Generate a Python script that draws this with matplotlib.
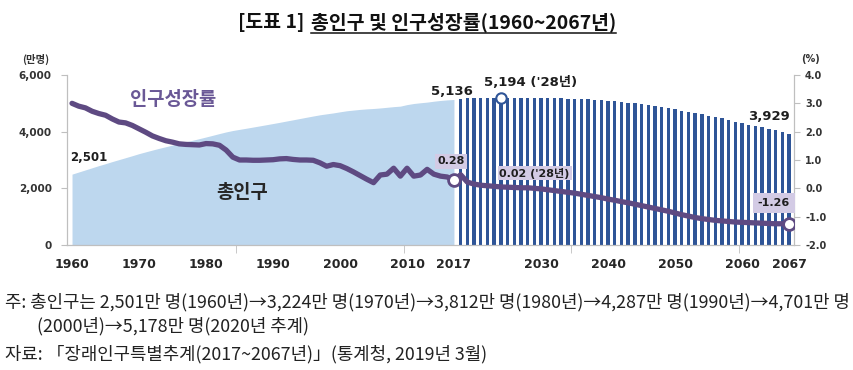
import matplotlib
matplotlib.use('Agg')
import matplotlib.pyplot as plt
from matplotlib.lines import Line2D

plt.rcParams['font.family'] = ['DejaVu Sans', 'Noto Sans CJK KR']

# ---------------- data ----------------
years_hist = list(range(1960, 2018))
pop_hist = [2501, 2576, 2651, 2726, 2801, 2870, 2944, 3013, 3082, 3152,
            3224, 3288, 3351, 3412, 3469, 3528, 3585, 3642, 3697, 3754,
            3812, 3872, 3933, 3991, 4041, 4081, 4121, 4162, 4203, 4245,
            4287, 4330, 4375, 4419, 4464, 4509, 4553, 4595, 4629, 4662,
            4701, 4737, 4762, 4786, 4804, 4818, 4837, 4860, 4883, 4901,
            4955, 4994, 5020, 5043, 5075, 5102, 5122, 5136]

years_proj = list(range(2018, 2068))
pop_proj = [5161, 5171, 5178, 5183, 5186, 5189, 5191, 5192, 5193, 5194,
            5194, 5194, 5193, 5189, 5184, 5178, 5170, 5162, 5152, 5140,
            5127, 5110, 5086, 5068, 5048, 5026, 5002, 4976, 4947, 4910,
            4875, 4835, 4790, 4745, 4706, 4670, 4624, 4570, 4529, 4471,
            4412, 4353, 4294, 4240, 4195, 4150, 4100, 4045, 3985, 3929]

years_all = list(range(1960, 2068))
growth = [3.00, 2.90, 2.84, 2.72, 2.64, 2.58, 2.45, 2.34, 2.31, 2.22,
          2.10, 1.98, 1.85, 1.76, 1.68, 1.63, 1.57, 1.55, 1.54, 1.53,
          1.58, 1.57, 1.52, 1.35, 1.10, 1.00, 1.00, 0.99, 0.99, 1.00,
          1.01, 1.04, 1.05, 1.02, 1.00, 1.00, 0.99, 0.90, 0.78, 0.84,
          0.80, 0.70, 0.58, 0.45, 0.32, 0.20, 0.47, 0.50, 0.71, 0.43,
          0.71, 0.43, 0.47, 0.67, 0.50, 0.43, 0.40, 0.28,
          0.48, 0.22, 0.15, 0.11, 0.09, 0.07, 0.05, 0.04, 0.03, 0.02,
          0.02, 0.00, -0.02, -0.05, -0.08, -0.11, -0.14, -0.17, -0.21, -0.25,
          -0.29, -0.33, -0.38, -0.42, -0.47, -0.51, -0.56, -0.61, -0.66, -0.71,
          -0.76, -0.81, -0.87, -0.93, -0.98, -1.03, -1.07, -1.10, -1.13, -1.15,
          -1.17, -1.19, -1.20, -1.21, -1.22, -1.23, -1.24, -1.25, -1.25, -1.26]

xtick_years = [1960, 1970, 1980, 1990, 2000, 2010, 2017, 2030, 2040, 2050, 2060, 2067]
left_ticks = [0, 2000, 4000, 6000]
right_ticks = [4.0, 3.0, 2.0, 1.0, 0.0, -1.0, -2.0]

growth_marker_years = [2017, 2067]
peak_marker_year = 2024
pop_labels = [(1960, 2501, '2,501'), (2017, 5136, '5,136'),
              (2028, 5194, "5,194 ('28년)"), (2067, 3929, '3,929')]
growth_labels = [(2017, 0.28, '0.28'), (2028, 0.02, "0.02 ('28년)"), (2067, -1.26, '-1.26')]

title_a = '[도표 1]'
title_b = '총인구 및 인구성장률(1960~2067년)'
note1 = '주: 총인구는 2,501만 명(1960년)→3,224만 명(1970년)→3,812만 명(1980년)→4,287만 명(1990년)→4,701만 명'
note2 = '(2000년)→5,178만 명(2020년 추계)'
note3 = '자료: 「장래인구특별추계(2017~2067년)」(통계청, 2019년 3월)'

# ---------------- style ----------------
AREA = '#BDD7EE'
BAR = '#2F5597'
LINE = '#5E4A82'
BOX = '#D3CBE5'
GRAY = '#BFBFBF'
TXT = '#1E1E1E'
CJK = ['Noto Sans CJK KR', 'DejaVu Sans']
NUM = ['DejaVu Sans', 'Noto Sans CJK KR']

W, H = 854, 370
fig = plt.figure(figsize=(W / 100, H / 100), dpi=100)
fig.patch.set_facecolor('white')


def fx(px):
    return px / W


def fy(py):
    return 1 - py / H


ax = fig.add_axes([fx(67), fy(245), (794 - 67) / W, 170 / H])
ax2 = ax.twinx()

ax.fill_between(years_hist, pop_hist, 0, color=AREA, lw=0, zorder=1)
ax.bar(years_proj, pop_proj, width=0.5, color=BAR, lw=0, zorder=2)
ax.set_ylim(0, 6000)
ax.set_xlim(1959.25, 2067.75)
ax2.set_ylim(-2, 4)

ax2.plot(years_all, growth, color=LINE, lw=3.8, solid_joinstyle='round',
         solid_capstyle='round', zorder=3)
for yr in growth_marker_years:
    ax2.plot([yr], [growth[years_all.index(yr)]], 'o', mfc='white', mec=LINE,
             ms=8.5, mew=2.0, zorder=4)
ax.plot([peak_marker_year], [pop_proj[years_proj.index(peak_marker_year)]], 'o',
        mfc='white', mec=BAR, ms=7.5, mew=1.5, zorder=5)

# spines / ticks
for a in (ax, ax2):
    a.spines['top'].set_visible(False)
    for s in ('left', 'right', 'bottom'):
        a.spines[s].set_color(GRAY)
        a.spines[s].set_linewidth(0.8)

ax.set_yticks(left_ticks)
ax.set_yticklabels([f'{v:,}' for v in left_ticks], fontsize=7.5, fontweight='bold',
                   color='#333333', family=NUM)
ax.tick_params(axis='y', direction='out', length=4, color=GRAY, pad=7)
ax2.set_yticks(right_ticks)
ax2.set_yticklabels([f'{v:.1f}' for v in right_ticks], fontsize=7, fontweight='bold',
                    color='#333333', family=NUM)
ax2.tick_params(axis='y', direction='out', length=4, color=GRAY, pad=4)

ax.set_xticks(xtick_years)
ax.set_xticklabels([str(y) for y in xtick_years], fontsize=9, fontweight='bold',
                   color='#262626', family=NUM)
ax.tick_params(axis='x', length=0, pad=9)
ax.set_xticks([1984.5, 2009.5, 2034.5, 2059.5], minor=True)
ax.tick_params(axis='x', which='minor', length=6, color=GRAY, direction='out')

# data labels
pop_off = {1960: (-2, 17, 'left', 8.5), 2017: (-2.5, 8, 'center', 9.5),
           2028: (3, 15, 'center', 9.5), 2067: (1, 17.5, 'right', 9.5)}
for yr, v, lab in pop_labels:
    dx, dy, ha, fs = pop_off[yr]
    ax.annotate(lab, xy=(yr, v), xytext=(dx, dy), textcoords='offset pixels',
                ha=ha, va='center', fontsize=fs, fontweight='bold', color=TXT,
                family=NUM, zorder=6)

g_off = {2017: (-3, 19, 'center', 'square,pad=0.2'),
         2028: (7, 14.5, 'center', 'square,pad=0.15'),
         2067: (1, 21, 'right', 'square,pad=0.45')}
for yr, v, lab in growth_labels:
    dx, dy, ha, bs = g_off[yr]
    ax2.annotate(lab, xy=(yr, v), xytext=(dx, dy), textcoords='offset pixels',
                 ha=ha, va='center', fontsize=8, fontweight='bold', color=TXT,
                 family=NUM, zorder=6,
                 bbox=dict(boxstyle=bs, fc=BOX, ec='none'))

# series names
fig.text(fx(173.5), fy(99.5), '인구성장률', ha='center', va='center', fontsize=13.5,
         fontweight='bold', color='#6A5896', family=CJK)
fig.text(fx(242.5), fy(192.5), '총인구', ha='center', va='center', fontsize=13.5,
         fontweight='bold', color='#262626', family=CJK)

# unit labels
fig.text(fx(36), fy(59), '(만명)', ha='center', va='center', fontsize=7.5,
         fontweight='bold', color='#333333', family=CJK)
fig.text(fx(811), fy(59), '(%)', ha='center', va='center', fontsize=7,
         fontweight='bold', color='#333333', family=NUM)

# ---------------- title with underline ----------------
fig.canvas.draw()
r = fig.canvas.get_renderer()
tfs = 13
ta = fig.text(0, fy(22), title_a, ha='left', va='center', fontsize=tfs,
              fontweight='bold', color='#111111', family=CJK)
tb = fig.text(0, fy(22), title_b, ha='left', va='center', fontsize=tfs,
              fontweight='bold', color='#111111', family=CJK)
wa = ta.get_window_extent(r).width
wb = tb.get_window_extent(r).width
gap = 7
target = 378.0
scale = target / (wa + gap + wb)
tfs2 = tfs * scale
ta.set_fontsize(tfs2)
tb.set_fontsize(tfs2)
fig.canvas.draw()
wa = ta.get_window_extent(r).width
wb = tb.get_window_extent(r).width
x0 = 427 - (wa + gap + wb) / 2
ta.set_x(fx(x0))
tb.set_x(fx(x0 + wa + gap))
fig.canvas.draw()
bb = tb.get_window_extent(r)
uy = bb.y0 - 1
fig.add_artist(Line2D([bb.x0 / W, bb.x1 / W], [uy / H, uy / H], color='#111111',
                      lw=1.1, transform=fig.transFigure))

# ---------------- footnotes ----------------
n1 = fig.text(fx(5), fy(302), note1, ha='left', va='center', fontsize=11,
              color='#222222', family=CJK)
fig.canvas.draw()
w1 = n1.get_window_extent(r).width
nfs = 11 * 845.0 / w1
n1.set_fontsize(nfs)
fig.text(fx(37), fy(326), note2, ha='left', va='center', fontsize=nfs,
         color='#222222', family=CJK)
fig.text(fx(5), fy(354), note3, ha='left', va='center', fontsize=nfs,
         color='#222222', family=CJK)

fig.savefig('out.png', dpi=100, facecolor='white')
